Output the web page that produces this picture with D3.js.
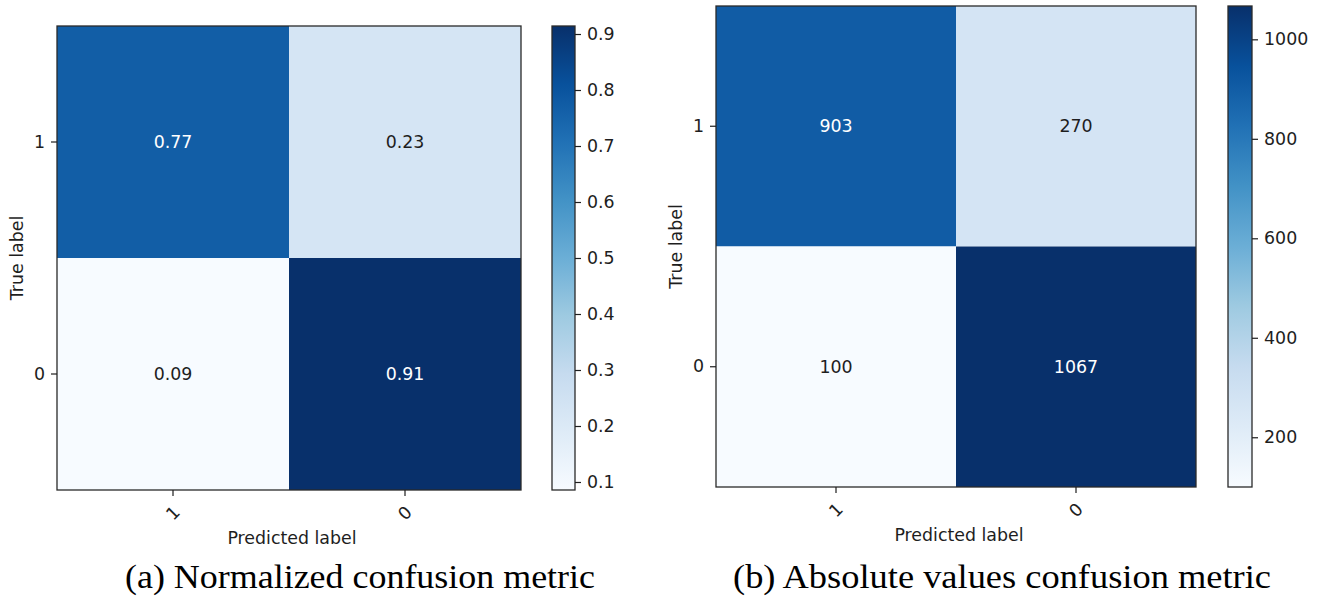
<!DOCTYPE html>
<html>
<head>
<meta charset="utf-8">
<script src="https://cdn.jsdelivr.net/npm/d3@7"></script>
<style>
  html, body { margin: 0; padding: 0; background: #fff; }
  svg { display: block; }
</style>
</head>
<body>
<svg id="chart" width="1322" height="600"></svg>
<script>
// ---------------- data ----------------
const trueLabels = ["1", "0"];
const predLabels = ["1", "0"];
// normalized confusion matrix (rows = true label, cols = predicted label)
const normRow1 = [0.7698, 0.2302];
const normRow0 = [0.0857, 0.9143];
// absolute counts
const countRow1 = [903, 270];
const countRow0 = [100, 1067];
const normTicks = [0.1, 0.2, 0.3, 0.4, 0.5, 0.6, 0.7, 0.8, 0.9];
const countTicks = [200, 400, 600, 800, 1000];
const captions = ["(a) Normalized confusion metric", "(b) Absolute values confusion metric"];
const xTitle = "Predicted label";
const yTitle = "True label";
// matplotlib "Blues" colormap anchors
const bluesStops = ["#f7fbff", "#deebf7", "#c6dbef", "#9ecae1", "#6baed6", "#4292c6", "#2171b5", "#08519c", "#08306b"];

// ---------------- layout ----------------
const svg = d3.select("#chart");
const FONT = "'DejaVu Sans', sans-serif";
const FS = 17.4;
const INK = "#1e1e1e";
const blues = d3.piecewise(d3.interpolateRgb, bluesStops);

const panels = [
  { id: "a", matrix: [normRow1, normRow0], fmt: d3.format(".2f"), ticks: normTicks, tickFmt: d3.format(".1f"),
    box: { x0: 57, x1: 521, y0: 26, y1: 490 }, cb: { x0: 552, x1: 575 },
    caption: captions[0], capX: 125, capLen: 470 },
  { id: "b", matrix: [countRow1, countRow0], fmt: d3.format("d"), ticks: countTicks, tickFmt: d3.format("d"),
    box: { x0: 716, x1: 1196, y0: 6, y1: 487 }, cb: { x0: 1228, x1: 1252 },
    caption: captions[1], capX: 733, capLen: 538 }
];

const defs = svg.append("defs");

panels.forEach(p => {
  const flat = p.matrix.flat();
  const vmin = d3.min(flat), vmax = d3.max(flat);
  const norm = d3.scaleLinear().domain([vmin, vmax]).range([0, 1]).clamp(true);
  const color = v => blues(norm(v));
  const thresh = (vmin + vmax) / 2;

  const x = d3.scaleBand().domain(predLabels).range([p.box.x0, p.box.x1]).padding(0);
  const y = d3.scaleBand().domain(trueLabels).range([p.box.y0, p.box.y1]).padding(0);

  const g = svg.append("g");

  // cells
  const cells = [];
  trueLabels.forEach((t, i) => predLabels.forEach((pl, j) => cells.push({ t, p: pl, v: p.matrix[i][j] })));

  g.selectAll("rect.cell").data(cells).join("rect")
    .attr("class", "cell")
    .attr("x", d => x(d.p)).attr("y", d => y(d.t))
    .attr("width", x.bandwidth()).attr("height", y.bandwidth())
    .attr("fill", d => color(d.v));

  g.selectAll("text.val").data(cells).join("text")
    .attr("class", "val")
    .attr("x", d => x(d.p) + x.bandwidth() / 2)
    .attr("y", d => y(d.t) + y.bandwidth() / 2)
    .attr("text-anchor", "middle").attr("dominant-baseline", "central")
    .style("font-family", FONT).style("font-size", FS + "px")
    .attr("fill", d => d.v > thresh ? "#ffffff" : INK)
    .text(d => p.fmt(d.v));

  // frame
  g.append("rect")
    .attr("x", p.box.x0).attr("y", p.box.y0)
    .attr("width", p.box.x1 - p.box.x0).attr("height", p.box.y1 - p.box.y0)
    .attr("fill", "none").attr("stroke", "#2a2a2a").attr("stroke-width", 1.3);

  // axes
  const xAxis = d3.axisBottom(x).tickSize(6).tickPadding(6);
  const gx = g.append("g").attr("transform", `translate(0,${p.box.y1})`).call(xAxis);
  gx.select(".domain").remove();
  gx.selectAll("line").attr("stroke", INK).attr("stroke-width", 1.2);
  gx.selectAll("text")
    .style("font-family", FONT).style("font-size", FS + "px").attr("fill", INK)
    .attr("dy", null).attr("y", null)
    .attr("text-anchor", "middle").attr("dominant-baseline", "central")
    .attr("transform", "translate(0,23) rotate(-45)");

  const yAxis = d3.axisLeft(y).tickSize(6).tickPadding(6);
  const gy = g.append("g").attr("transform", `translate(${p.box.x0},0)`).call(yAxis);
  gy.select(".domain").remove();
  gy.selectAll("line").attr("stroke", INK).attr("stroke-width", 1.2);
  gy.selectAll("text").style("font-family", FONT).style("font-size", FS + "px").attr("fill", INK);

  // axis titles
  g.append("text")
    .attr("x", (p.box.x0 + p.box.x1) / 2 + 3).attr("y", p.box.y1 + 54)
    .attr("text-anchor", "middle")
    .style("font-family", FONT).style("font-size", FS + "px").attr("fill", INK)
    .text(xTitle);
  g.append("text")
    .attr("transform", `translate(${p.box.x0 - 40},${(p.box.y0 + p.box.y1) / 2}) rotate(-90)`)
    .attr("text-anchor", "middle").attr("dominant-baseline", "central")
    .style("font-family", FONT).style("font-size", FS + "px").attr("fill", INK)
    .text(yTitle);

  // colorbar
  const gradId = "grad-" + p.id;
  const grad = defs.append("linearGradient").attr("id", gradId)
    .attr("x1", 0).attr("y1", 1).attr("x2", 0).attr("y2", 0);
  bluesStops.forEach((c, i) => grad.append("stop")
    .attr("offset", i / (bluesStops.length - 1)).attr("stop-color", c));

  const cbScale = d3.scaleLinear().domain([vmin, vmax]).range([p.box.y1, p.box.y0]);
  g.append("rect")
    .attr("x", p.cb.x0).attr("y", p.box.y0)
    .attr("width", p.cb.x1 - p.cb.x0).attr("height", p.box.y1 - p.box.y0)
    .attr("fill", `url(#${gradId})`)
    .attr("stroke", "#2a2a2a").attr("stroke-width", 1.3);

  const cbAxis = d3.axisRight(cbScale).tickValues(p.ticks).tickFormat(p.tickFmt).tickSize(6).tickPadding(6);
  const gc = g.append("g").attr("transform", `translate(${p.cb.x1},0)`).call(cbAxis);
  gc.select(".domain").remove();
  gc.selectAll("line").attr("stroke", INK).attr("stroke-width", 1.2);
  gc.selectAll("text").style("font-family", FONT).style("font-size", FS + "px").attr("fill", INK);

  // caption
  svg.append("text")
    .attr("x", p.capX).attr("y", 588)
    .attr("textLength", p.capLen).attr("lengthAdjust", "spacingAndGlyphs")
    .style("font-family", "'Liberation Serif', 'Times New Roman', serif")
    .style("font-size", "33px").attr("fill", "#000")
    .text(p.caption);
});
</script>
</body>
</html>
